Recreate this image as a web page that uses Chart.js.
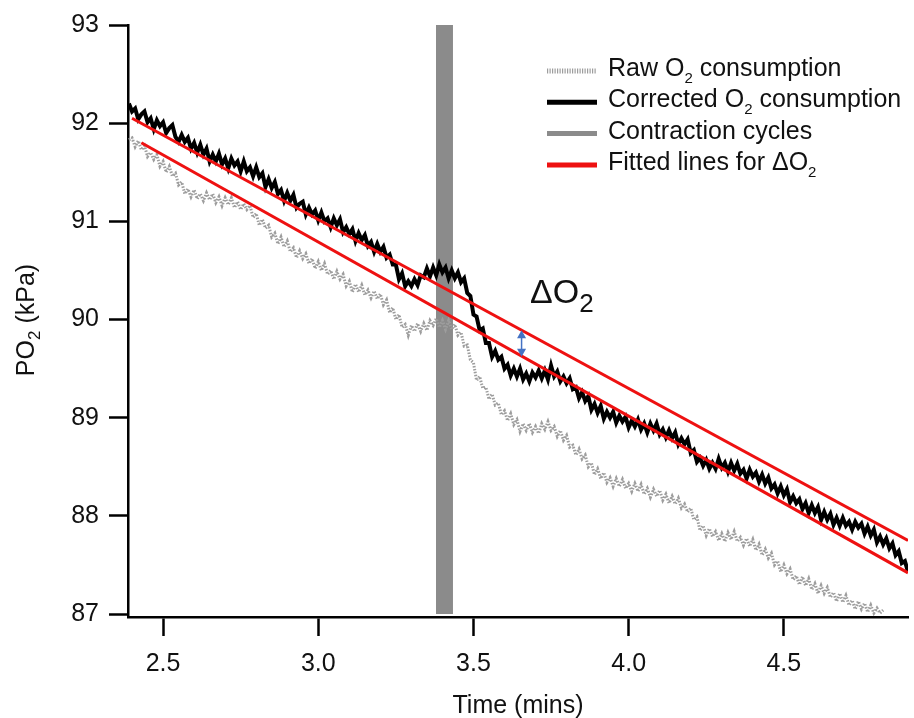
<!DOCTYPE html>
<html><head><meta charset="utf-8">
<script src="https://cdn.jsdelivr.net/npm/chart.js@4.4.1/dist/chart.umd.min.js"></script>
<style>html,body{margin:0;padding:0;background:#fff;}canvas{display:block;}</style>
</head><body>
<canvas id="c" width="914" height="718"></canvas>
<script>
// ---- data ----
const TIME = [
2.39,2.40,2.41,2.42,2.43,2.44,2.45,2.46,2.47,2.48,2.49,
2.50,2.51,2.52,2.53,2.54,2.55,2.56,2.57,2.58,2.59,
2.60,2.61,2.62,2.63,2.64,2.65,2.66,2.67,2.68,2.69,
2.70,2.71,2.72,2.73,2.74,2.75,2.76,2.77,2.78,2.79,
2.80,2.81,2.82,2.83,2.84,2.85,2.86,2.87,2.88,2.89,
2.90,2.91,2.92,2.93,2.94,2.95,2.96,2.97,2.98,2.99,
3.00,3.01,3.02,3.03,3.04,3.05,3.06,3.07,3.08,3.09,
3.10,3.11,3.12,3.13,3.14,3.15,3.16,3.17,3.18,3.19,
3.20,3.21,3.22,3.23,3.24,3.25,3.26,3.27,3.28,3.29,
3.30,3.31,3.32,3.33,3.34,3.35,3.36,3.37,3.38,3.39,
3.40,3.41,3.42,3.43,3.44,3.45,3.46,3.47,3.48,3.49,
3.50,3.51,3.52,3.53,3.54,3.55,3.56,3.57,3.58,3.59,
3.60,3.61,3.62,3.63,3.64,3.65,3.66,3.67,3.68,3.69,
3.70,3.71,3.72,3.73,3.74,3.75,3.76,3.77,3.78,3.79,
3.80,3.81,3.82,3.83,3.84,3.85,3.86,3.87,3.88,3.89,
3.90,3.91,3.92,3.93,3.94,3.95,3.96,3.97,3.98,3.99,
4.00,4.01,4.02,4.03,4.04,4.05,4.06,4.07,4.08,4.09,
4.10,4.11,4.12,4.13,4.14,4.15,4.16,4.17,4.18,4.19,
4.20,4.21,4.22,4.23,4.24,4.25,4.26,4.27,4.28,4.29,
4.30,4.31,4.32,4.33,4.34,4.35,4.36,4.37,4.38,4.39,
4.40,4.41,4.42,4.43,4.44,4.45,4.46,4.47,4.48,4.49,
4.50,4.51,4.52,4.53,4.54,4.55,4.56,4.57,4.58,4.59,
4.60,4.61,4.62,4.63,4.64,4.65,4.66,4.67,4.68,4.69,
4.70,4.71,4.72,4.73,4.74,4.75,4.76,4.77,4.78,4.79,
4.80,4.81,4.82,4.83,4.84,4.85,4.86,4.87,4.88,4.89,
4.90];

const CORRECTED = [
92.20,92.12,92.15,92.04,92.09,92.12,92.01,92.05,91.94,92.03,91.97,
92.01,91.90,91.95,91.98,91.86,91.81,91.88,91.81,91.85,91.74,
91.80,91.70,91.78,91.68,91.74,91.61,91.68,91.61,91.69,91.58,
91.64,91.54,91.64,91.57,91.61,91.51,91.61,91.51,91.55,91.46,
91.55,91.45,91.49,91.35,91.43,91.34,91.40,91.28,91.32,91.21,
91.29,91.21,91.27,91.14,91.18,91.20,91.07,91.14,91.07,91.11,
91.01,91.09,91.00,91.03,90.94,91.03,90.96,91.02,90.89,90.94,
90.87,90.92,90.80,90.88,90.81,90.86,90.75,90.79,90.69,90.77,
90.69,90.74,90.63,90.66,90.56,90.56,90.41,90.47,90.34,90.39,
90.34,90.41,90.35,90.45,90.43,90.52,90.44,90.53,90.45,90.56,
90.48,90.53,90.42,90.50,90.42,90.48,90.38,90.42,90.27,90.24,
90.05,90.03,89.89,89.91,89.76,89.76,89.62,89.68,89.59,89.62,
89.50,89.54,89.43,89.50,89.42,89.50,89.39,89.45,89.37,89.46,
89.41,89.48,89.40,89.48,89.39,89.53,89.42,89.47,89.37,89.42,
89.35,89.40,89.29,89.31,89.20,89.26,89.17,89.22,89.08,89.14,
89.05,89.12,88.99,89.06,89.00,89.06,88.95,89.02,88.96,89.01,
88.90,88.97,88.91,88.98,88.88,88.94,88.85,88.94,88.87,88.94,
88.83,88.88,88.80,88.87,88.79,88.85,88.73,88.79,88.73,88.78,
88.64,88.67,88.55,88.59,88.51,88.57,88.48,88.54,88.48,88.58,
88.49,88.54,88.45,88.54,88.46,88.53,88.43,88.47,88.38,88.47,
88.40,88.44,88.35,88.42,88.33,88.39,88.28,88.32,88.23,88.30,
88.21,88.27,88.14,88.20,88.13,88.17,88.07,88.13,88.03,88.11,
88.03,88.09,87.96,88.04,87.96,88.02,87.91,87.98,87.90,87.98,
87.90,87.94,87.86,87.94,87.88,87.92,87.82,87.89,87.80,87.86,
87.73,87.79,87.71,87.77,87.67,87.72,87.60,87.64,87.52,87.54,
87.43];

const RAW = [
91.83,91.85,91.76,91.82,91.73,91.77,91.66,91.70,91.63,91.68,91.56,
91.61,91.50,91.56,91.46,91.49,91.37,91.40,91.28,91.33,91.25,
91.32,91.23,91.28,91.21,91.29,91.22,91.28,91.19,91.25,91.16,
91.24,91.17,91.24,91.14,91.20,91.12,91.18,91.12,91.16,91.04,
91.08,90.96,91.02,90.93,90.96,90.84,90.88,90.77,90.84,90.74,
90.80,90.69,90.73,90.63,90.70,90.62,90.67,90.57,90.62,90.52,
90.59,90.50,90.57,90.46,90.50,90.41,90.49,90.41,90.46,90.34,
90.39,90.28,90.36,90.28,90.35,90.25,90.30,90.22,90.29,90.21,
90.26,90.15,90.20,90.07,90.12,90.00,90.05,89.92,89.95,89.84,
89.94,89.88,89.96,89.88,89.96,89.89,89.99,89.94,90.01,89.92,
89.99,89.90,89.99,89.90,89.95,89.84,89.87,89.73,89.74,89.59,
89.56,89.38,89.42,89.30,89.31,89.19,89.24,89.13,89.15,89.03,
89.07,88.97,89.04,88.93,88.98,88.86,88.94,88.87,88.94,88.85,
88.91,88.84,88.94,88.88,88.96,88.87,88.91,88.81,88.87,88.77,
88.82,88.70,88.72,88.62,88.68,88.58,88.62,88.50,88.54,88.42,
88.48,88.38,88.44,88.34,88.39,88.30,88.38,88.30,88.37,88.28,
88.33,88.25,88.33,88.25,88.32,88.22,88.28,88.19,88.27,88.20,
88.26,88.16,88.22,88.13,88.20,88.12,88.18,88.08,88.12,88.04,
88.08,87.96,87.99,87.85,87.90,87.80,87.87,87.79,87.84,87.75,
87.82,87.74,87.83,87.76,87.84,87.74,87.78,87.70,87.77,87.69,
87.76,87.65,87.71,87.60,87.66,87.57,87.62,87.50,87.54,87.43,
87.50,87.41,87.46,87.35,87.39,87.30,87.38,87.29,87.36,87.25,
87.31,87.21,87.29,87.21,87.27,87.17,87.22,87.13,87.21,87.12,
87.19,87.09,87.14,87.05,87.13,87.05,87.11,87.02,87.09,87.01,
87.06,87.01,87.04];

const FIT_UPPER_T = [2.40, 4.90];
const FIT_UPPER_V = [92.05, 87.75];
const FIT_LOWER_T = [2.43, 4.90];
const FIT_LOWER_V = [91.80, 87.42];
const CONTRACTION_T = [3.379, 3.434];
const CONTRACTION_V = [93, 93];
const DELTA_T = 3.655;
const DELTA_V = [89.62, 89.89];
const X_TICKS = [2.5, 3.0, 3.5, 4.0, 4.5];
const Y_TICKS = [87, 88, 89, 90, 91, 92, 93];

// ---- drawing ----
const FONT = "'Liberation Sans', Arial, Helvetica, sans-serif";
Chart.defaults.font.family = FONT;
const pts = (ts, vs) => vs.map((v, i) => ({x: ts[i], y: v}));

function textWithSub(ctx, text, x, y, size, subSize, drop, measureOnly) {
  const parts = text.split('\u2082');
  let cx = x;
  parts.forEach((p, i) => {
    ctx.font = size + 'px ' + FONT;
    if (!measureOnly) ctx.fillText(p, cx, y);
    cx += ctx.measureText(p).width;
    if (i < parts.length - 1) {
      ctx.font = subSize + 'px ' + FONT;
      if (!measureOnly) ctx.fillText('2', cx, y + drop);
      cx += ctx.measureText('2').width;
    }
  });
  return cx - x;
}

const overlay = {
  id: 'overlay',
  afterDatasetsDraw(chart) {
    const ctx = chart.ctx, xs = chart.scales.x, ys = chart.scales.y;
    const x = xs.getPixelForValue(DELTA_T);
    const yT = ys.getPixelForValue(DELTA_V[1]);
    const yB = ys.getPixelForValue(DELTA_V[0]);
    ctx.save();
    ctx.strokeStyle = ctx.fillStyle = '#4472c4';
    ctx.lineWidth = 1.5;
    ctx.beginPath(); ctx.moveTo(x, yT + 6); ctx.lineTo(x, yB - 6); ctx.stroke();
    ctx.beginPath(); ctx.moveTo(x, yT); ctx.lineTo(x - 4.5, yT + 8); ctx.lineTo(x + 4.5, yT + 8); ctx.closePath(); ctx.fill();
    ctx.beginPath(); ctx.moveTo(x, yB); ctx.lineTo(x - 4.5, yB - 8); ctx.lineTo(x + 4.5, yB - 8); ctx.closePath(); ctx.fill();
    ctx.restore();
  },
  afterDraw(chart) {
    const ctx = chart.ctx;
    ctx.save();
    ctx.fillStyle = '#111';
    ctx.textBaseline = 'alphabetic';
    ctx.textAlign = 'left';
    textWithSub(ctx, '\u0394O\u2082', 530, 303, 34, 26, 9);
    ctx.save();
    ctx.translate(34, 320);
    ctx.rotate(-Math.PI / 2);
    const w = textWithSub(ctx, 'PO\u2082 (kPa)', 0, 0, 25, 17, 6, true);
    textWithSub(ctx, 'PO\u2082 (kPa)', -w / 2, 0, 25, 17, 6);
    ctx.restore();
    const items = chart.data.datasets.filter(d => d.label);
    items.forEach((d, i) => {
      const base = 76 + i * 31.3;
      const ly = base - 5;
      ctx.save();
      ctx.lineWidth = 5;
      ctx.strokeStyle = d.legendColor || d.borderColor;
      if (d.legendDash) ctx.setLineDash(d.legendDash);
      ctx.beginPath(); ctx.moveTo(547, ly); ctx.lineTo(597, ly); ctx.stroke();
      ctx.restore();
      ctx.fillStyle = '#111';
      textWithSub(ctx, d.label, 608, base, 25, 15, 7);
    });
    ctx.restore();
  }
};

new Chart(document.getElementById('c'), {
  type: 'line',
  data: {
    datasets: [
      {label: 'Raw O\u2082 consumption', data: pts(TIME, RAW), borderColor: '#9d9d9d',
       borderWidth: 3, borderDash: [1.5, 1.5], pointRadius: 0, tension: 0, order: 5, legendDash: [1.2, 1.3]},
      {label: 'Corrected O\u2082 consumption', data: pts(TIME, CORRECTED), borderColor: '#000',
       borderWidth: 4, pointRadius: 0, tension: 0, order: 3},
      {label: 'Contraction cycles', data: pts(CONTRACTION_T, CONTRACTION_V), borderColor: '#8b8b8b',
       borderWidth: 0, backgroundColor: '#8b8b8b', fill: {value: 87}, pointRadius: 0, order: 10},
      {label: 'Fitted lines for \u0394O\u2082', data: pts(FIT_UPPER_T, FIT_UPPER_V), borderColor: '#ee1111',
       borderWidth: 3, pointRadius: 0, order: 1},
      {label: '', data: pts(FIT_LOWER_T, FIT_LOWER_V), borderColor: '#ee1111',
       borderWidth: 3, pointRadius: 0, order: 1}
    ]
  },
  options: {
    responsive: false,
    animation: false,
    layout: {padding: {left: 0, right: 6, top: 25, bottom: 0}},
    plugins: {legend: {display: false}, tooltip: {enabled: false}},
    scales: {
      x: {
        type: 'linear', min: 2.387, max: 4.9,
        afterBuildTicks: s => { s.ticks = X_TICKS.map(v => ({value: v})); },
        afterFit: s => { s.height = 101; },
        ticks: {callback: v => Number(v).toFixed(1), font: {size: 25}, color: '#111', padding: 13, maxRotation: 0, autoSkip: false},
        grid: {drawOnChartArea: false, drawTicks: true, tickLength: 19, tickWidth: 2.5, tickColor: '#000'},
        border: {display: true, color: '#000', width: 2.5},
        title: {display: true, text: 'Time (mins)', font: {size: 25}, color: '#111', padding: {top: 0, bottom: -3}}
      },
      y: {
        type: 'linear', min: 86.97, max: 93,
        afterBuildTicks: s => { s.ticks = Y_TICKS.map(v => ({value: v})); },
        afterFit: s => { s.width = 128; },
        ticks: {callback: v => String(v), font: {size: 25}, color: '#111', padding: 10},
        grid: {drawOnChartArea: false, drawTicks: true, tickLength: 19, tickWidth: 2.5, tickColor: '#000'},
        border: {display: true, color: '#000', width: 2.5}
      }
    }
  },
  plugins: [overlay]
});
</script>
</body></html>
